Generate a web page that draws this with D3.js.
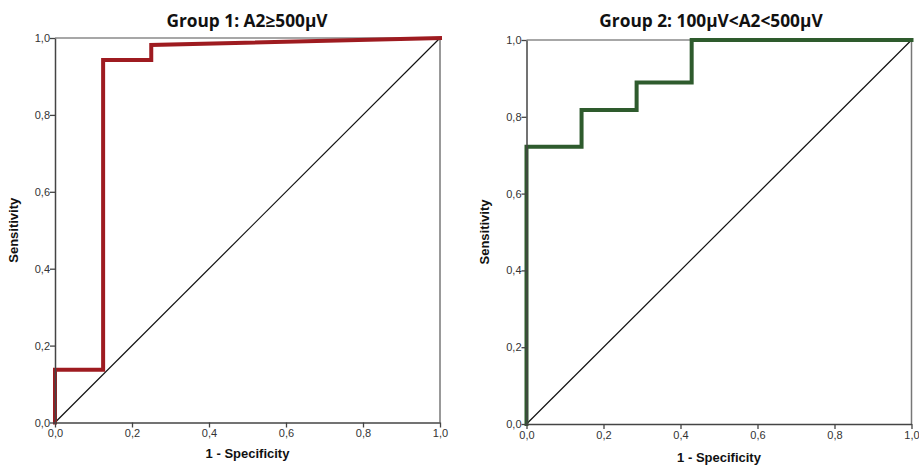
<!DOCTYPE html>
<html><head><meta charset="utf-8">
<script src="https://cdn.jsdelivr.net/npm/d3@7"></script>
<style>body{margin:0;background:#fff}svg{display:block}</style>
</head><body>
<svg id="c" width="919" height="469"></svg>
<script>
const ticks = [0, 0.2, 0.4, 0.6, 0.8, 1.0];
const tickLabels = ["0,0", "0,2", "0,4", "0,6", "0,8", "1,0"];
const g1Fpr = [0, 0, 0.125, 0.125, 0.25, 0.25, 1];
const g1Tpr = [0, 0.137, 0.137, 0.943, 0.943, 0.982, 1];
const g2Fpr = [0, 0, 0.143, 0.143, 0.286, 0.286, 0.429, 0.429, 1];
const g2Tpr = [0, 0.722, 0.722, 0.818, 0.818, 0.889, 0.889, 1, 1];
const titles = ["Group 1: A2≥500µV", "Group 2: 100µV<A2<500µV"];
const xTitle = "1 - Specificity";
const yTitle = "Sensitivity";

const svg = d3.select("#c");
const panels = [
  {x0: 55, x1: 440, y0: 422.5, y1: 38, fpr: g1Fpr, tpr: g1Tpr, color: "#9e1b20", title: titles[0], tx: 247, ylab: 18, xlabY: 458},
  {x0: 526.5, x1: 911.5, y0: 424, y1: 40, fpr: g2Fpr, tpr: g2Tpr, color: "#2e5b2d", title: titles[1], tx: 711, ylab: 489, xlabY: 462}
];
const fmt = d => tickLabels[ticks.findIndex(t => Math.abs(t - d) < 1e-9)];

panels.forEach(p => {
  const x = d3.scaleLinear().domain([0, 1]).range([p.x0, p.x1]);
  const y = d3.scaleLinear().domain([0, 1]).range([p.y0, p.y1]);
  const g = svg.append("g");
  g.append("line").attr("x1", p.x0).attr("x2", p.x1).attr("y1", p.y1).attr("y2", p.y1).attr("stroke", "#8a8a8a").attr("stroke-width", 1.3);
  g.append("line").attr("x1", p.x1).attr("x2", p.x1).attr("y1", p.y1).attr("y2", p.y0).attr("stroke", "#777").attr("stroke-width", 1.5);
  g.append("line").attr("x1", x(0)).attr("y1", y(0)).attr("x2", x(1)).attr("y2", y(1)).attr("stroke", "#111").attr("stroke-width", 1.2);
  const pts = p.fpr.map((f, i) => [f, p.tpr[i]]);
  g.append("path").attr("d", d3.line().x(d => x(d[0])).y(d => y(d[1]))(pts))
    .attr("fill", "none").attr("stroke", p.color).attr("stroke-width", 4).attr("stroke-linejoin", "miter").attr("stroke-linecap", "square");
  const xa = g.append("g").attr("transform", `translate(0,${p.y0})`)
    .call(d3.axisBottom(x).tickValues(ticks).tickFormat(fmt).tickSize(5).tickSizeOuter(0));
  const ya = g.append("g").attr("transform", `translate(${p.x0},0)`)
    .call(d3.axisLeft(y).tickValues(ticks).tickFormat(fmt).tickSize(5).tickSizeOuter(0));
  [xa, ya].forEach(a => {
    a.select(".domain").attr("stroke", "#444").attr("stroke-width", 1.5);
    a.selectAll(".tick line").attr("stroke", "#444").attr("stroke-width", 1.3);
    a.selectAll("text").attr("font-family", "Liberation Sans, Arial, sans-serif").attr("font-size", 11).attr("fill", "#333");
  });
  xa.selectAll("text").attr("dy", "0.71em").attr("y", 7);
  ya.selectAll("text").attr("x", -5).attr("dy", "0.32em");
  g.append("text").attr("x", p.tx).attr("y", 27).attr("text-anchor", "middle")
    .attr("font-family", "Open Sans, sans-serif").attr("font-weight", "bold").attr("font-size", 17.3).attr("fill", "#111").text(p.title);
  g.append("text").attr("x", (p.x0 + p.x1) / 2).attr("y", p.xlabY).attr("text-anchor", "middle")
    .attr("font-family", "Liberation Sans, Arial, sans-serif").attr("font-weight", "bold").attr("font-size", 13).attr("fill", "#111").text(xTitle);
  g.append("text").attr("transform", `translate(${p.ylab},${(p.y0 + p.y1) / 2}) rotate(-90)`).attr("text-anchor", "middle")
    .attr("font-family", "Liberation Sans, Arial, sans-serif").attr("font-weight", "bold").attr("font-size", 13).attr("fill", "#111").text(yTitle);
});
</script>
</body></html>
